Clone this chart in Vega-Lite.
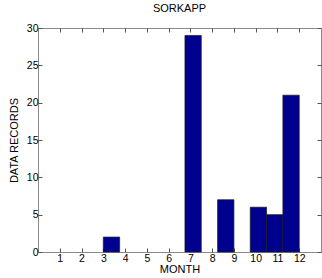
{
  "$schema": "https://vega.github.io/schema/vega-lite/v6.json",
  "autosize": {"type": "none"},
  "padding": {"left": 38, "top": 28, "right": 1, "bottom": 26},
  "width": 283,
  "height": 224,
  "background": "white",
  "config": {
    "view": {"stroke": "#8a8a8a", "strokeWidth": 1},
    "font": "Liberation Sans",
    "axis": {
      "domain": false,
      "tickColor": "#555555",
      "labelColor": "black",
      "titleColor": "black",
      "labelFont": "Liberation Sans",
      "titleFont": "Liberation Sans",
      "labelFontSize": 10.5,
      "titleFontSize": 11,
      "titleFontWeight": "normal",
      "grid": false,
      "tickSize": -4
    }
  },
  "title": {"text": "SORKAPP", "font": "Liberation Sans", "fontSize": 11, "fontWeight": "normal", "color": "black", "offset": 9},
  "data": {
    "values": [
      {"start": 3.0, "end": 3.75, "count": 2},
      {"start": 6.75, "end": 7.5, "count": 29},
      {"start": 8.25, "end": 9.0, "count": 7},
      {"start": 9.75, "end": 10.5, "count": 6},
      {"start": 10.5, "end": 11.25, "count": 5},
      {"start": 11.25, "end": 12.0, "count": 21}
    ]
  },
  "layer": [
    {
      "mark": {"type": "bar", "fill": "#00008F", "stroke": "#1a1a1a", "strokeWidth": 0.7},
      "encoding": {
        "x": {
          "field": "start", "type": "quantitative",
          "scale": {"domain": [0, 13], "nice": false, "zero": false},
          "axis": {"title": "MONTH", "values": [1,2,3,4,5,6,7,8,9,10,11,12], "labelPadding": 5, "titlePadding": 0, "orient": "bottom"}
        },
        "x2": {"field": "end"},
        "y": {
          "field": "count", "type": "quantitative",
          "scale": {"domain": [0, 30], "nice": false},
          "axis": {"title": "DATA RECORDS", "values": [0,5,10,15,20,25,30], "labelPadding": 4, "titlePadding": 7, "orient": "left"}
        },
        "y2": {"datum": 0}
      }
    },
    {
      "mark": {"type": "bar", "opacity": 0},
      "encoding": {
        "x": {
          "field": "start", "type": "quantitative",
          "scale": {"domain": [0, 13], "nice": false, "zero": false},
          "axis": {"title": null, "orient": "top", "labels": false, "values": [1,2,3,4,5,6,7,8,9,10,11,12]}
        },
        "x2": {"field": "end"},
        "y": {
          "field": "count", "type": "quantitative",
          "scale": {"domain": [0, 30], "nice": false},
          "axis": {"title": null, "orient": "right", "labels": false, "values": [0,5,10,15,20,25,30]}
        },
        "y2": {"datum": 0}
      }
    }
  ],
  "resolve": {"axis": {"x": "independent", "y": "independent"}}
}
